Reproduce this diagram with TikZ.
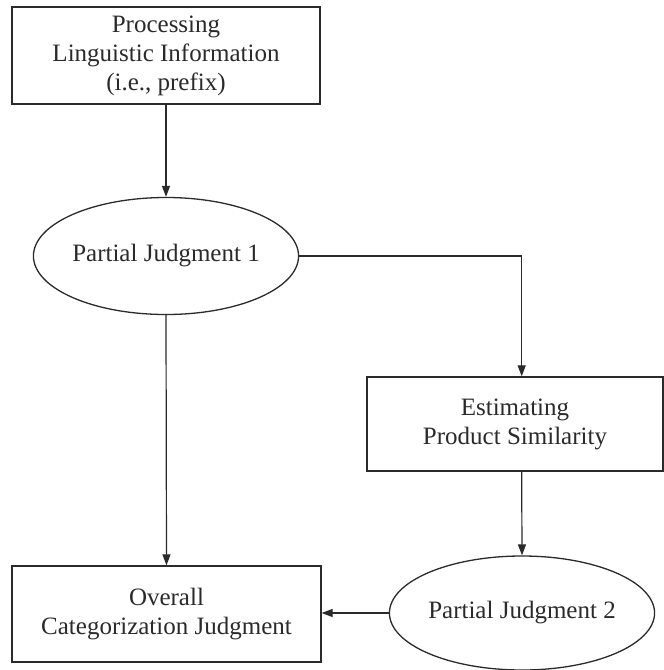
\documentclass[tikz,border=0pt]{standalone}
\usepackage{fontspec}
\setmainfont{Liberation Serif}
\usetikzlibrary{shapes.geometric,arrows.meta}
\definecolor{ink}{HTML}{2A2A2A}
\begin{document}
\begin{tikzpicture}[x=1pt,y=-1pt,
  every node/.style={font=\fontsize{25}{29}\selectfont, text=ink, align=center, inner sep=0pt},
  stepbox/.style={draw=ink, line width=1.3pt, rectangle},
  judge/.style={draw=ink, line width=1.3pt, ellipse},
  arr/.style={draw=ink, line width=1.2pt, -{Triangle[length=11pt,width=8pt]}}]
\useasboundingbox (0,0) rectangle (664,670);
\node[stepbox, minimum width=308pt, minimum height=97pt] (proc) at (166,55.5)
  {Processing\\Linguistic Information\\(i.e., prefix)};
\node[judge, minimum width=238pt, minimum height=117pt] (pj1) at (166,256) {Partial Judgment 1};
\node[stepbox, minimum width=296pt, minimum height=94pt] (est) at (515,424)
  {Estimating\\Product Similarity};
\node[judge, minimum width=238pt, minimum height=114pt] (pj2) at (522,613) {Partial Judgment 2};
\node[stepbox, minimum width=309pt, minimum height=96pt] (overall) at (166.5,614)
  {Overall\\Categorization Judgment};
\draw[arr] (proc.south) -- (pj1.north);
\draw[arr] (pj1.east) -| ([xshift=6.7pt]est.north);
\draw[arr] ([xshift=6.7pt]est.south) -- (pj2.north);
\draw[arr] (pj1.south) -- (overall.north);
\draw[arr] (pj2.west) -- (pj2.west -| overall.east);
\end{tikzpicture}
\end{document}
